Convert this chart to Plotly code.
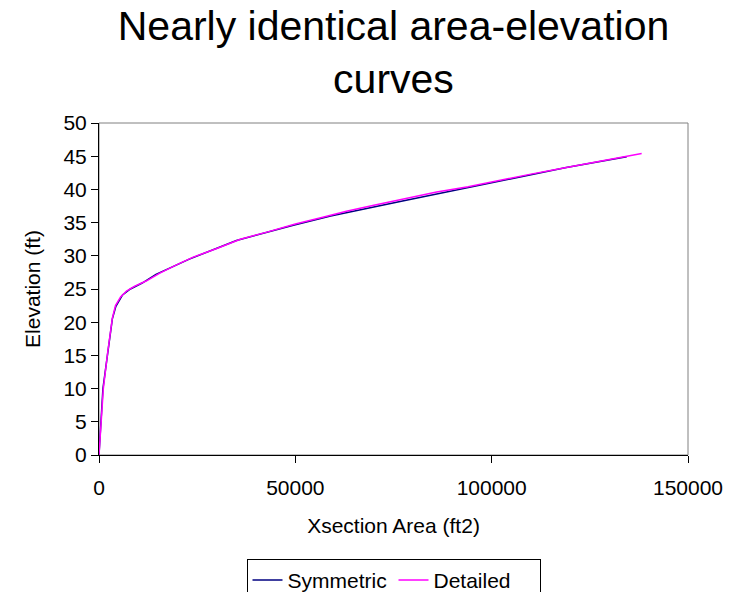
import plotly.graph_objects as go

# Data
sym_area = [0, 1000, 3400, 4300, 6000, 8000, 11000, 14500, 23000, 29000, 35000,
            49500, 59000, 77000, 100000, 119000, 134400]
sym_elev = [0, 10.0, 20.5, 22.4, 24.1, 25.0, 25.9, 27.2, 29.5, 30.9, 32.3,
            34.6, 36.0, 38.2, 41.0, 43.3, 44.9]

det_area = [0, 500, 1100, 2200, 3400, 4200, 5500, 7000, 9000, 12000, 15500,
            20000, 24000, 30000, 36000, 43000, 50000, 57000, 63000, 70000,
            78000, 86000, 94000, 102000, 110000, 118000, 126000, 133000, 138200]
det_elev = [0, 4.8, 10.0, 15.4, 20.6, 22.5, 23.8, 24.7, 25.4, 26.2, 27.4,
            28.7, 29.8, 31.1, 32.5, 33.6, 34.8, 35.8, 36.7, 37.6,
            38.6, 39.6, 40.4, 41.4, 42.3, 43.2, 44.1, 44.9, 45.4]

x_ticks = [0, 50000, 100000, 150000]
y_ticks = [0, 5, 10, 15, 20, 25, 30, 35, 40, 45, 50]

FONT = "Liberation Sans, Arial, sans-serif"

fig = go.Figure()
fig.add_trace(go.Scatter(x=sym_area, y=sym_elev, mode="lines", name="Symmetric",
                         line=dict(color="#000080", width=1.5)))
fig.add_trace(go.Scatter(x=det_area, y=det_elev, mode="lines", name="Detailed",
                         line=dict(color="#FF00FF", width=1.5)))

# plot-area border (gray, Excel style)
fig.add_shape(type="rect", xref="paper", yref="paper", x0=0, y0=0, x1=1, y1=1,
              line=dict(color="#808080", width=1), layer="below")

fig.update_layout(
    width=741, height=592,
    margin=dict(l=99, r=53, t=123, b=137, autoexpand=False),
    paper_bgcolor="white", plot_bgcolor="white",
    font=dict(family=FONT, size=21, color="black"),
    title=dict(text="Nearly identical area-elevation<br>curves",
               font=dict(family=FONT, size=41, color="black"),
               x=0.5, xref="paper", xanchor="center",
               y=1 - 40 / 592, yref="container", yanchor="top"),
    showlegend=True,
    legend=dict(orientation="h", x=0.5, xanchor="center", y=-0.313, yanchor="top",
                bordercolor="black", borderwidth=1, bgcolor="white",
                font=dict(family=FONT, size=21, color="black"),
                itemwidth=30, entrywidth=101),
)

fig.update_xaxes(range=[0, 150000], tickvals=x_ticks, tickformat="d",
                 showgrid=False, zeroline=False, showline=True, linecolor="black",
                 linewidth=1, ticks="outside", ticklen=7, tickcolor="black",
                 ticklabelstandoff=7,
                 tickfont=dict(family=FONT, size=21, color="black"),
                 title=dict(text="Xsection Area (ft2)", standoff=20,
                            font=dict(family=FONT, size=21, color="black")))
fig.update_yaxes(range=[0, 50], tickvals=y_ticks,
                 showgrid=False, zeroline=False, showline=True, linecolor="black",
                 linewidth=1, ticks="outside", ticklen=7, tickcolor="black",
                 tickfont=dict(family=FONT, size=21, color="black"),
                 title=dict(text="Elevation (ft)", standoff=17,
                            font=dict(family=FONT, size=21, color="black")))

fig.write_html("out.html")
